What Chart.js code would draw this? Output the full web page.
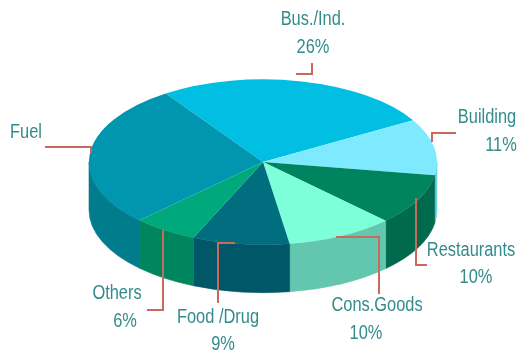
<!DOCTYPE html>
<html>
<head>
<meta charset="utf-8">
<script src="https://cdn.jsdelivr.net/npm/chart.js@4.4.1/dist/chart.umd.min.js"></script>
<style>
  html, body { margin: 0; padding: 0; background: #ffffff; }
  #wrap { width: 526px; height: 362px; }
</style>
</head>
<body>
<div id="wrap"><canvas id="pieChart" width="526" height="362"></canvas></div>
<script>
// Slice data, clockwise from the top-left edge of the pie
const sliceNames = ['Bus./Ind.', 'Building', 'Restaurants', 'Cons.Goods', 'Food /Drug', 'Others', 'Fuel'];
const shareValues = [26, 11, 10, 10, 9, 6, 28];
const showPercent = [true, true, true, true, true, true, false];

// Top face colours and the darker side wall colours
const topColors = ['#00bfe3', '#7deaff', '#00845f', '#7dffda', '#006e7f', '#00a97c', '#0096af'];
const sideColors = ['#00a3c2', '#6cd3e6', '#006a4e', '#62c7ae', '#005767', '#00865f', '#007c8c'];

// Where each callout sits: name centre, percent centre, leader line
const callouts = [
    { name: [313, 19], pct: [313, 47], line: [[296, 74], [312, 74], [312, 63]] },
    { name: [487, 117], pct: [501, 145], line: [[432, 142], [432, 133], [456, 133]] },
    { name: [471, 250], pct: [476, 277], line: [[416, 198], [416, 265], [427, 265]] },
    { name: [377, 305], pct: [366, 333], line: [[336, 237], [379, 237], [379, 294]] },
    { name: [218, 317], pct: [223, 344], line: [[235, 243], [218, 243], [218, 303]] },
    { name: [117, 293], pct: [125, 321], line: [[163, 230], [163, 310], [147, 310]] },
    { name: [26, 132], pct: null, line: [[45, 147], [91, 147], [91, 153]] }
];

// Look of the tilted pie on the page
const pieCenterX = 263;
const pieCenterY = 162;
const tilt = 0.475;      // vertical squash of the top face
const depth = 48;        // thickness of the side wall
const textColor = '#338b8b';
const leaderColor = '#c96a5c';

// Clip one slice to the visible front half [0, PI] of the rim
function frontPart(a1, a2) {
    const parts = [];
    for (let k = -2; k <= 2; k++) {
        const s = Math.max(a1, k * 2 * Math.PI);
        const e = Math.min(a2, k * 2 * Math.PI + Math.PI);
        if (e > s) parts.push([s - k * 2 * Math.PI, e - k * 2 * Math.PI]);
    }
    return parts;
}

const pie3d = {
    id: 'pie3d',
    beforeDatasetsDraw(chart) {
        const ctx = chart.ctx;
        const arcs = chart.getDatasetMeta(0).data;
        const R = arcs[0].outerRadius;

        // Side walls, drawn under the top face
        arcs.forEach((arc, i) => {
            frontPart(arc.startAngle, arc.endAngle).forEach(([s, e]) => {
                ctx.beginPath();
                ctx.ellipse(pieCenterX, pieCenterY, R, R * tilt, 0, s, e);
                ctx.ellipse(pieCenterX, pieCenterY + depth, R, R * tilt, 0, e, s, true);
                ctx.closePath();
                ctx.fillStyle = sideColors[i];
                ctx.strokeStyle = sideColors[i];
                ctx.lineWidth = 0.6;
                ctx.fill();
                ctx.stroke();
            });
        });

        // Squash the top face into an ellipse
        ctx.save();
        ctx.translate(pieCenterX, pieCenterY);
        ctx.scale(1, tilt);
        ctx.translate(-arcs[0].x, -arcs[0].y);
    },
    afterDatasetsDraw(chart) {
        chart.ctx.restore();
    },
    afterDraw(chart) {
        const ctx = chart.ctx;
        ctx.save();

        // Leader lines
        ctx.strokeStyle = leaderColor;
        ctx.lineWidth = 2;
        callouts.forEach(c => {
            ctx.beginPath();
            c.line.forEach(([x, y], j) => j ? ctx.lineTo(x, y) : ctx.moveTo(x, y));
            ctx.stroke();
        });

        // Labels in a narrow sans face
        ctx.fillStyle = textColor;
        ctx.font = '20px "Liberation Sans", Arial, sans-serif';
        ctx.textAlign = 'center';
        ctx.textBaseline = 'middle';
        const narrow = 0.82;
        const drawText = (txt, [x, y]) => {
            ctx.save();
            ctx.translate(x, y);
            ctx.scale(narrow, 1);
            ctx.fillText(txt, 0, 0);
            ctx.restore();
        };
        sliceNames.forEach((name, i) => {
            drawText(name, callouts[i].name);
            if (showPercent[i]) drawText(shareValues[i] + '%', callouts[i].pct);
        });
        ctx.restore();
    }
};

function createChart() {
    const ctx = document.getElementById('pieChart').getContext('2d');
    new Chart(ctx, {
        type: 'pie',
        data: {
            labels: sliceNames,
            datasets: [{
                data: shareValues,
                backgroundColor: topColors,
                borderWidth: 0,
                clip: false
            }]
        },
        options: {
            responsive: false,
            animation: false,
            rotation: -34,
            layout: { padding: { left: 89, right: 89, top: 7, bottom: 7 } },
            plugins: {
                legend: { display: false },
                tooltip: { enabled: false }
            }
        },
        plugins: [pie3d]
    });
}

document.addEventListener('DOMContentLoaded', createChart);
</script>
</body>
</html>
